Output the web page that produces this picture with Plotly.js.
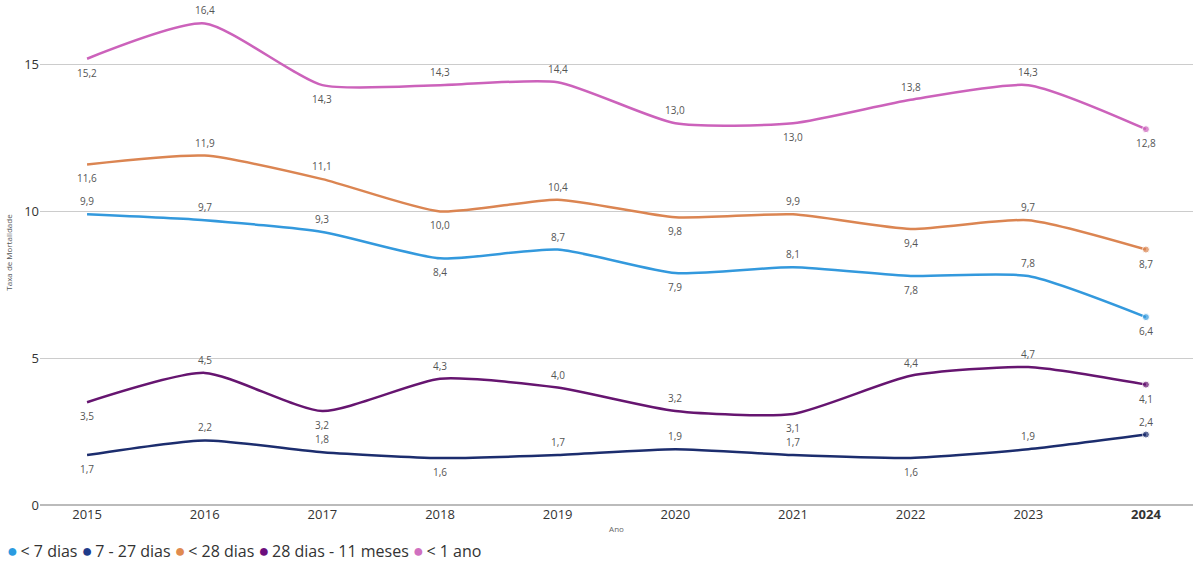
<!DOCTYPE html>
<html>
<head>
<meta charset="utf-8">
<script src="https://cdn.plot.ly/plotly-3.0.1.min.js"></script>
<style>html,body{margin:0;padding:0;background:#fff;}#chart{width:1193px;height:567px;}</style>
</head>
<body>
<div id="chart"></div>
<script>
const years = [2015, 2016, 2017, 2018, 2019, 2020, 2021, 2022, 2023, 2024];
const yearLabels = ["2015","2016","2017","2018","2019","2020","2021","2022","2023","<b>2024</b>"];

const names = ["< 7 dias", "7 - 27 dias", "< 28 dias", "28 dias - 11 meses", "< 1 ano"];
const menos7 = [9.9, 9.7, 9.3, 8.4, 8.7, 7.9, 8.1, 7.8, 7.8, 6.4];
const de7a27 = [1.7, 2.2, 1.8, 1.6, 1.7, 1.9, 1.7, 1.6, 1.9, 2.4];
const menos28 = [11.6, 11.9, 11.1, 10.0, 10.4, 9.8, 9.9, 9.4, 9.7, 8.7];
const de28a11m = [3.5, 4.5, 3.2, 4.3, 4.0, 3.2, 3.1, 4.4, 4.7, 4.1];
const menos1ano = [15.2, 16.4, 14.3, 14.3, 14.4, 13.0, 13.0, 13.8, 14.3, 12.8];

// label placement: u = above, d = below
const pos7 = ["u","u","u","d","u","d","u","d","u","d"];
const pos727 = ["d","u","u","d","u","u","u","d","u","u"];
const pos28 = ["d","u","u","d","u","d","u","d","u","d"];
const pos2811 = ["d","u","d","u","u","u","d","u","u","d"];
const pos1 = ["d","u","d","u","u","u","d","u","u","d"];

const colors = ["#3399dd", "#1c2d6e", "#db8552", "#661570", "#cc62bb"];
const legendColors = ["#2b9be0", "#1f3b8a", "#e08a4f", "#6c0e7d", "#d070c0"];
const series = [menos7, de7a27, menos28, de28a11m, menos1ano];
const positions = [pos7, pos727, pos28, pos2811, pos1];

const fmt = v => v.toFixed(1).replace(".", ",");
const esc = s => s.replace(/</g, "&lt;");

const traces = series.map((vals, i) => ({
  x: years,
  y: vals,
  name: names[i],
  type: "scatter",
  mode: "lines+markers",
  line: {shape: "spline", smoothing: 0.6, color: colors[i], width: 2.5},
  marker: {color: colors[i], size: vals.map((v, j) => j === vals.length - 1 ? 7 : 0)},
  showlegend: false,
  cliponaxis: false
}));

const annotations = [];
series.forEach((vals, i) => {
  vals.forEach((v, j) => {
    annotations.push({
      x: years[j], y: v, xref: "x", yref: "y",
      text: fmt(v), showarrow: false,
      yshift: positions[i][j] === "u" ? 13 : -14,
      font: {family: "Open Sans, sans-serif", size: 10, color: "#555"}
    });
  });
});

const legendText = names.map((n, i) =>
  '<span style="color:' + legendColors[i] + ';font-size:18px">●</span>\u2009' + esc(n)).join(" ");
annotations.push({
  xref: "paper", yref: "paper", x: -0.03, y: -0.09, xanchor: "left", yanchor: "middle",
  text: legendText, showarrow: false,
  font: {family: "Open Sans, sans-serif", size: 16, color: "#333"}
});

const layout = {
  width: 1193, height: 567,
  margin: {l: 40, r: 0, t: 0, b: 62},
  paper_bgcolor: "#fff", plot_bgcolor: "#fff",
  font: {family: "Open Sans, sans-serif", color: "#333"},
  xaxis: {
    range: [2014.6, 2024.4],
    tickvals: years, ticktext: yearLabels,
    showgrid: false, zeroline: false, showline: false,
    ticks: "", tickfont: {size: 13, color: "#333"},
    title: {text: "Ano", font: {size: 8, color: "#666"}, standoff: 4}
  },
  yaxis: {
    range: [0, 17.2],
    tickvals: [0, 5, 10, 15],
    showgrid: true, gridcolor: "#cccccc", gridwidth: 1,
    zeroline: true, zerolinecolor: "#bbbbbb", zerolinewidth: 1.5,
    ticks: "", tickfont: {size: 13, color: "#333"},
    title: {text: "Taxa de Mortalidade", font: {size: 8, color: "#555"}, standoff: 10}
  },
  showlegend: false,
  annotations: annotations
};

Plotly.newPlot("chart", traces, layout, {displayModeBar: false, staticPlot: true});
</script>
</body>
</html>
